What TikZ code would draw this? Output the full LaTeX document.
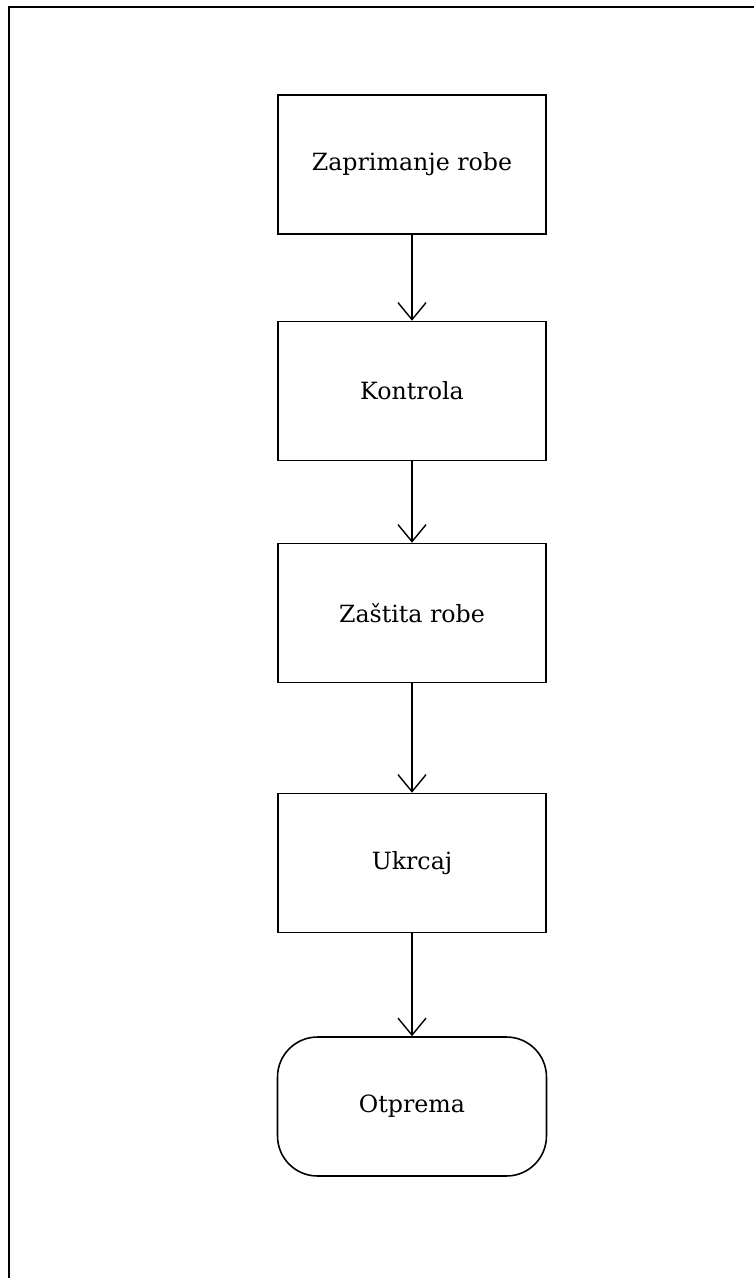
\documentclass[tikz,border=0pt]{standalone}
\usepackage{fontspec}
\setmainfont{DejaVu Serif}
\usepackage{tikz}
\usetikzlibrary{arrows.meta}

\begin{document}
\begin{tikzpicture}[x=0.02cm,y=-0.02cm,
  every node/.style={draw,line width=0.9pt,inner sep=0pt,minimum width=5.36cm,minimum height=2.78cm,font=\fontsize{13.5}{16}\selectfont},
  endbox/.style={rounded corners=0.8cm,minimum width=5.38cm},
  flow/.style={line width=0.8pt,-{Straight Barb[length=0.34cm,width=0.56cm,line width=0.8pt]}}]
\useasboundingbox (0,0) rectangle (754,1278);
%
\draw[line width=1.3pt] (9,1278) -- (9,7) -- (754,7);
%
\node (0) at (412,164.5) {Zaprimanje robe};
\node (1) at (412,391)   {Kontrola};
\node (2) at (412,613)   {Zaštita robe};
\node (3) at (412,863)   {Ukrcaj};
\node[endbox] (4) at (412,1106.5) {Otprema};
%
\draw[flow] (0) -- (1);
\draw[flow] (1) -- (2);
\draw[flow] (2) -- (3);
\draw[flow] (3) -- (4);
%
\end{tikzpicture}
\end{document}
